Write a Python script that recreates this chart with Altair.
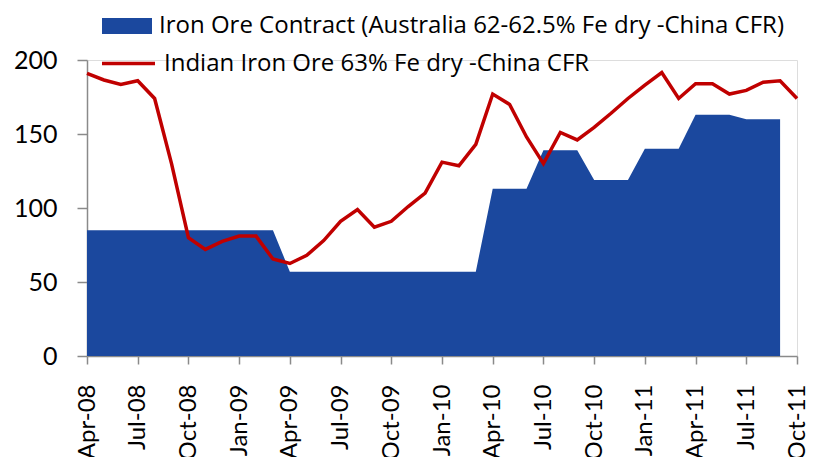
import altair as alt
import pandas as pd

months = ["Apr-08", "May-08", "Jun-08", "Jul-08", "Aug-08", "Sep-08", "Oct-08", "Nov-08", "Dec-08",
          "Jan-09", "Feb-09", "Mar-09", "Apr-09", "May-09", "Jun-09", "Jul-09", "Aug-09", "Sep-09",
          "Oct-09", "Nov-09", "Dec-09", "Jan-10", "Feb-10", "Mar-10", "Apr-10", "May-10", "Jun-10",
          "Jul-10", "Aug-10", "Sep-10", "Oct-10", "Nov-10", "Dec-10", "Jan-11", "Feb-11", "Mar-11",
          "Apr-11", "May-11", "Jun-11", "Jul-11", "Aug-11", "Sep-11", "Oct-11"]

contract = [85, 85, 85, 85, 85, 85, 85, 85, 85, 85, 85, 85,
            57, 57, 57, 57, 57, 57, 57, 57, 57, 57, 57, 57,
            113, 113, 113, 139, 139, 139, 119, 119, 119,
            140, 140, 140, 163, 163, 163, 160, 160, 160, None]

indian = [191, 186.5, 183.5, 186, 174, 130, 80, 72, 77.5, 81, 81, 65.5,
          62.5, 68, 78, 91, 99, 87, 91, 101, 110, 131, 128.5, 143,
          177, 170, 148, 130, 151, 146, 154.5, 164, 174, 183, 191.5, 174,
          184, 184, 177, 179.5, 185, 186, 174]

tick_labels = months[::3]

name_contract = "Iron Ore Contract (Australia 62-62.5% Fe dry -China CFR)"
name_indian = "Indian Iron Ore 63% Fe dry -China CFR"

df = pd.DataFrame({
    "month": months,
    "contract": contract,
    "indian": indian,
    "s1": name_contract,
    "s2": name_indian,
})

x_enc = alt.X(
    "month:O",
    sort=months,
    scale=alt.Scale(domain=months, type="point", padding=0),
    axis=alt.Axis(
        values=tick_labels, title=None, labelAngle=-90, labelFontSize=24,
        labelFont="Lato", labelColor="#000000", labelPadding=20, tickSize=8,
        tickColor="#8a8a8a", domainColor="#8a8a8a", domainWidth=1.5, tickWidth=1.5,
    ),
)

y_axis = alt.Axis(
    values=[0, 50, 100, 150, 200], title=None, grid=False, labelFontSize=25,
    labelFont="Lato", labelColor="#000000", labelPadding=20, tickSize=10,
    tickColor="#8a8a8a", domainColor="#8a8a8a", domainWidth=1.5, tickWidth=1.5,
)

area = alt.Chart(df).mark_area(opacity=1, interpolate="linear").encode(
    x=x_enc,
    y=alt.Y("contract:Q", scale=alt.Scale(domain=[0, 200], nice=False), axis=y_axis),
    fill=alt.Fill(
        "s1:N",
        scale=alt.Scale(domain=[name_contract], range=["#1b489e"]),
        legend=alt.Legend(
            title=None, orient="none", legendX=15, legendY=-59, padding=0,
            symbolType="M-1,-0.32H1V0.32H-1Z", symbolSize=2500, symbolOpacity=1,
            symbolStrokeWidth=0, labelFontSize=24, labelFont="Open Sans",
            labelColor="#000000", labelOffset=7, labelLimit=800,
        ),
    ),
)

line = alt.Chart(df).mark_line(strokeWidth=3.5, interpolate="linear").encode(
    x=x_enc,
    y=alt.Y("indian:Q", scale=alt.Scale(domain=[0, 200], nice=False)),
    stroke=alt.Stroke(
        "s2:N",
        scale=alt.Scale(domain=[name_indian], range=["#c00000"]),
        legend=alt.Legend(
            title=None, orient="none", legendX=13, legendY=-25, padding=0,
            symbolType="stroke", symbolSize=2809, symbolStrokeWidth=3.5,
            labelFontSize=24, labelFont="Open Sans", labelColor="#000000",
            labelOffset=7, labelLimit=800,
        ),
    ),
)

chart = alt.layer(area, line).resolve_scale(fill="independent", stroke="independent").properties(
    width=710,
    height=296,
    padding={"left": 79, "top": 52, "right": 10, "bottom": 101},
    autosize=alt.AutoSizeParams(type="none"),
).configure_view(stroke=None).configure(background="#ffffff")

chart.save("out.html", embed_options={"renderer": "svg", "actions": False})
